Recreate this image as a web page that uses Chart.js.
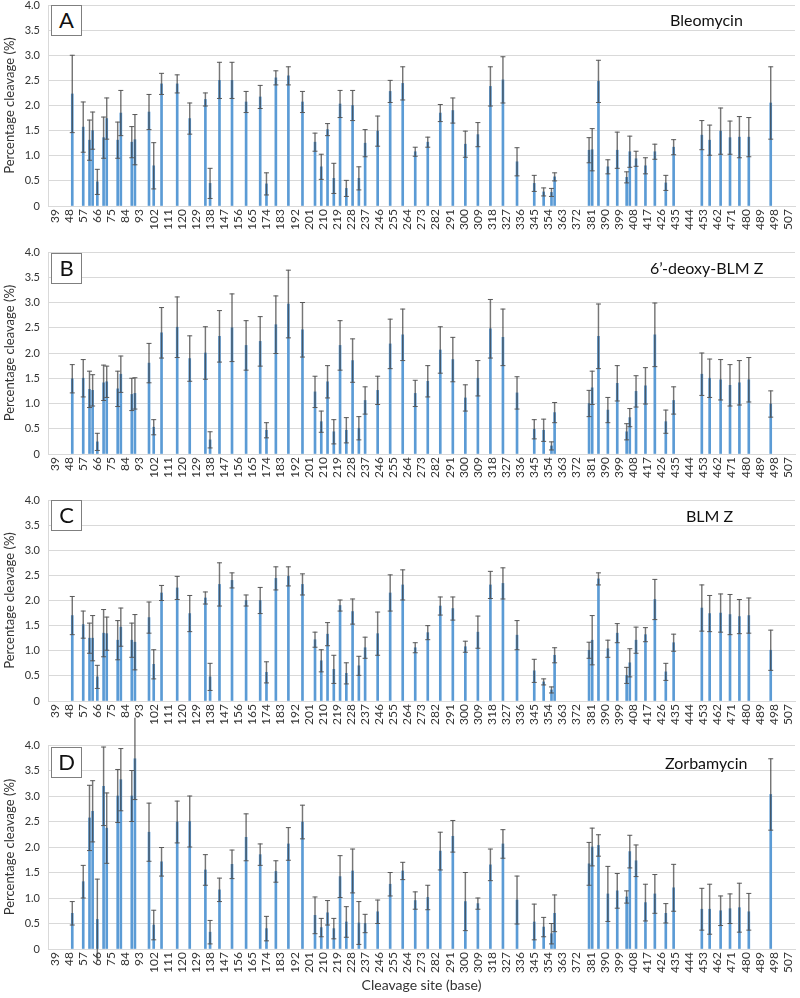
<!DOCTYPE html>
<html>
<head>
<meta charset="utf-8">
<script src="https://cdn.jsdelivr.net/npm/chart.js@4.4.0/dist/chart.umd.min.js"></script>
<style>
  body { margin: 0; background: #fff; font-family: Lato, "Open Sans", sans-serif; }
  #page { position: relative; width: 800px; height: 998px; overflow: hidden; }
  canvas { position: absolute; left: 0; }
  .box { position: absolute; left: 51px; width: 31px; height: 31px; box-sizing: border-box;
         border: 1.5px solid #7f7f7f; background: #fff; font-size: 22px; line-height: 28px;
         text-align: center; color: #111; z-index: 2; }
  .drug { position: absolute; font-size: 16px; line-height: 18px; color: #111; white-space: nowrap; z-index: 2; }
</style>
</head>
<body>
<div id="page">
  <canvas id="chartA" width="800" height="240" style="top:0px"></canvas>
  <canvas id="chartB" width="800" height="241" style="top:247px"></canvas>
  <canvas id="chartC" width="800" height="240" style="top:495px"></canvas>
  <canvas id="chartD" width="800" height="284" style="top:712px"></canvas>

  <div class="box" style="top:5px">A</div>
  <div class="box" style="top:253px">B</div>
  <div class="box" style="top:500px">C</div>
  <div class="box" style="top:747px">D</div>

  <div class="drug" style="left:670px;top:11px">Bleomycin</div>
  <div class="drug" style="left:650px;top:259px">6’-deoxy-BLM Z</div>
  <div class="drug" style="left:686px;top:507px">BLM Z</div>
  <div class="drug" style="left:665px;top:754px">Zorbamycin</div>
</div>

<script>
// cleavage sites (base) shared by all four panels
const sites = [50, 57, 61, 63, 66, 70, 72, 79, 81, 88, 90, 99, 102, 107, 117, 125, 135, 138, 144, 152,
  161, 170, 174, 180, 188, 197, 205, 209, 213, 217, 221, 225, 229, 233, 237, 245, 253,
  261, 269, 277, 285, 293, 301, 309, 317, 325, 334, 345, 351, 356, 358, 380, 382, 386, 392, 398, 404,
  406, 410, 416, 422, 429, 434, 452, 457, 464, 470, 476, 482, 496];

const xTicks = [39, 48, 57, 66, 75, 84, 93, 102, 111, 120, 129, 138, 147, 156, 165, 174, 183, 192, 201,
  210, 219, 228, 237, 246, 255, 264, 273, 282, 291, 300, 309, 318, 327, 336, 345, 354, 363, 372, 381,
  390, 399, 408, 417, 426, 435, 444, 453, 462, 471, 480, 489, 498, 507];

const bleomycin = [2.23, 1.57, 1.31, 1.50, 0.48, 1.36, 1.74, 1.31, 1.85, 1.27, 1.32, 1.87, 0.80, 2.43, 2.43, 1.74, 2.12, 0.45, 2.50, 2.50,
  2.07, 2.17, 0.44, 2.55, 2.59, 2.07, 1.27, 0.78, 1.52, 0.55, 2.03, 0.35, 2.00, 0.55, 1.25, 1.49, 2.28,
  2.44, 1.08, 1.27, 1.85, 1.90, 1.23, 1.42, 2.38, 2.51, 0.88, 0.45, 0.28, 0.27, 0.58, 1.11, 1.12, 2.48, 0.78, 1.11, 0.57,
  1.08, 0.94, 0.80, 1.08, 0.46, 1.17, 1.41, 1.31, 1.49, 1.36, 1.37, 1.37, 2.05];
const bleomycinSd = [0.77, 0.50, 0.40, 0.37, 0.25, 0.41, 0.41, 0.36, 0.45, 0.31, 0.50, 0.35, 0.46, 0.21, 0.18, 0.31, 0.13, 0.30, 0.36, 0.36,
  0.21, 0.23, 0.22, 0.14, 0.18, 0.21, 0.18, 0.25, 0.12, 0.30, 0.27, 0.16, 0.30, 0.23, 0.27, 0.30, 0.22,
  0.33, 0.09, 0.10, 0.17, 0.25, 0.26, 0.24, 0.39, 0.46, 0.28, 0.16, 0.08, 0.08, 0.08, 0.25, 0.42, 0.42, 0.14, 0.36, 0.11,
  0.31, 0.15, 0.16, 0.15, 0.15, 0.15, 0.29, 0.30, 0.46, 0.33, 0.41, 0.39, 0.72];

const deoxyBlmZ = [1.49, 1.50, 1.28, 1.26, 0.24, 1.41, 1.43, 1.29, 1.58, 1.18, 1.20, 1.80, 0.53, 2.40, 2.51, 1.89, 2.00, 0.28, 2.33, 2.50,
  2.15, 2.23, 0.47, 2.56, 2.97, 2.46, 1.23, 0.64, 1.43, 0.44, 2.15, 0.47, 1.85, 0.51, 1.06, 1.26, 2.18,
  2.36, 1.20, 1.44, 2.06, 1.87, 1.11, 1.50, 2.48, 2.31, 1.21, 0.49, 0.47, 0.16, 0.82, 1.00, 1.31, 2.33, 0.87, 1.40, 0.44,
  0.72, 1.24, 1.35, 2.36, 0.64, 1.06, 1.58, 1.50, 1.47, 1.36, 1.41, 1.47, 0.99];
const deoxyBlmZSd = [0.28, 0.37, 0.36, 0.31, 0.17, 0.35, 0.31, 0.35, 0.36, 0.32, 0.31, 0.39, 0.15, 0.50, 0.60, 0.45, 0.52, 0.16, 0.51, 0.67,
  0.49, 0.49, 0.15, 0.57, 0.67, 0.54, 0.31, 0.21, 0.32, 0.24, 0.49, 0.25, 0.43, 0.23, 0.27, 0.28, 0.49,
  0.51, 0.26, 0.31, 0.46, 0.44, 0.26, 0.35, 0.58, 0.56, 0.32, 0.19, 0.22, 0.08, 0.20, 0.26, 0.33, 0.64, 0.25, 0.35, 0.16,
  0.18, 0.31, 0.36, 0.63, 0.23, 0.27, 0.42, 0.38, 0.40, 0.41, 0.44, 0.44, 0.26];

const blmZ = [1.70, 1.52, 1.25, 1.25, 0.48, 1.35, 1.34, 1.21, 1.47, 1.21, 1.17, 1.66, 0.73, 2.15, 2.25, 1.74, 2.05, 0.48, 2.32, 2.40,
  2.00, 2.00, 0.57, 2.44, 2.48, 2.32, 1.22, 0.80, 1.33, 0.63, 1.90, 0.55, 1.78, 0.70, 1.06, 1.34, 2.15,
  2.31, 1.06, 1.36, 1.89, 1.84, 1.08, 1.37, 2.31, 2.34, 1.31, 0.60, 0.38, 0.22, 0.91, 1.01, 1.21, 2.43, 1.04, 1.35, 0.51,
  0.76, 1.21, 1.32, 2.02, 0.58, 1.16, 1.85, 1.74, 1.75, 1.72, 1.68, 1.70, 1.01];
const blmZSd = [0.38, 0.27, 0.30, 0.45, 0.23, 0.47, 0.33, 0.39, 0.38, 0.34, 0.55, 0.31, 0.29, 0.15, 0.23, 0.36, 0.12, 0.27, 0.43, 0.15,
  0.11, 0.26, 0.21, 0.23, 0.19, 0.21, 0.15, 0.22, 0.23, 0.28, 0.11, 0.21, 0.25, 0.19, 0.21, 0.43, 0.36,
  0.30, 0.10, 0.14, 0.18, 0.23, 0.11, 0.32, 0.27, 0.31, 0.29, 0.23, 0.06, 0.06, 0.15, 0.16, 0.49, 0.12, 0.17, 0.19, 0.16,
  0.28, 0.26, 0.14, 0.40, 0.17, 0.17, 0.46, 0.36, 0.38, 0.40, 0.34, 0.35, 0.40];

const zorbamycin = [0.70, 1.32, 2.57, 2.70, 0.58, 3.19, 2.37, 3.00, 3.32, 3.00, 3.73, 2.29, 0.47, 1.71, 2.49, 2.50, 1.55, 0.33, 1.16, 1.66,
  2.19, 1.85, 0.40, 1.52, 2.06, 2.49, 0.66, 0.42, 0.71, 0.40, 1.42, 0.53, 1.53, 0.51, 0.50, 0.73, 1.27,
  1.53, 0.95, 1.01, 1.92, 2.21, 0.93, 0.89, 1.65, 2.06, 0.96, 0.53, 0.43, 0.30, 0.70, 1.67, 2.00, 2.03, 1.08, 1.14, 1.02,
  1.91, 1.73, 0.91, 1.08, 0.70, 1.20, 0.78, 0.78, 0.75, 0.79, 0.81, 0.73, 3.03];
const zorbamycinSd = [0.23, 0.32, 0.64, 0.60, 0.79, 0.77, 0.69, 0.52, 0.61, 0.50, 0.80, 0.57, 0.29, 0.28, 0.41, 0.50, 0.30, 0.23, 0.23, 0.28,
  0.46, 0.21, 0.24, 0.21, 0.32, 0.33, 0.36, 0.18, 0.24, 0.20, 0.41, 0.30, 0.43, 0.42, 0.18, 0.23, 0.23,
  0.17, 0.17, 0.24, 0.37, 0.31, 0.57, 0.11, 0.31, 0.28, 0.47, 0.35, 0.19, 0.20, 0.36, 0.42, 0.37, 0.21, 0.54, 0.34, 0.12,
  0.32, 0.31, 0.36, 0.38, 0.19, 0.46, 0.41, 0.49, 0.29, 0.29, 0.48, 0.36, 0.70];

const barColor = '#5b9bd5';
const errColor = 'rgba(60, 60, 60, 0.7)';
const capColor = '#595959';
const gridColor = '#d9d9d9';
const textColor = '#333333';
const fontFamily = 'Lato, "Open Sans", sans-serif';

const renderPanel = (id, values, sds, padTop, xHeight, showXTitle) => {
  let ctx = document.getElementById(id).getContext('2d');
  let bars = sites.map((s, i) => ({x: s, y: values[i]}));
  let errs = sites.map((s, i) => ({x: s, y: [values[i] - sds[i], values[i] + sds[i]]}));
  let caps = sites.flatMap((s, i) => [{x: s, y: values[i] - sds[i]}, {x: s, y: values[i] + sds[i]}]);

  new Chart(ctx, {
    type: 'bar',
    data: {
      datasets: [{
        data: bars,
        backgroundColor: barColor,
        barThickness: 2,
        grouped: false,
        order: 3
      }, {
        data: errs,
        backgroundColor: errColor,
        barThickness: 0.8,
        grouped: false,
        clip: false,
        order: 2
      }, {
        type: 'line',
        data: caps,
        showLine: false,
        pointStyle: 'line',
        pointRadius: 2.5,
        borderColor: capColor,
        borderWidth: 1,
        clip: false,
        order: 1
      }]
    },
    options: {
      responsive: false,
      animation: false,
      events: [],
      layout: {padding: {top: padTop, right: 4, left: 0, bottom: 0}},
      plugins: {legend: {display: false}, tooltip: {enabled: false}},
      scales: {
        x: {
          type: 'linear',
          min: 39,
          max: 507,
          afterBuildTicks: (scale) => { scale.ticks = xTicks.map(v => ({value: v})); },
          afterFit: (scale) => { scale.height = xHeight; scale.paddingLeft = 0; scale.paddingRight = 0; },
          ticks: {
            autoSkip: false,
            minRotation: 90,
            maxRotation: 90,
            padding: 3,
            color: textColor,
            font: {family: fontFamily, size: 12}
          },
          grid: {display: false, drawTicks: false},
          border: {display: true, color: gridColor},
          title: {
            display: showXTitle,
            text: 'Cleavage site (base)',
            color: textColor,
            font: {family: fontFamily, size: 14},
            padding: {top: 0, bottom: 2}
          }
        },
        y: {
          min: 0,
          max: 4,
          afterFit: (scale) => { scale.width = 48; scale.paddingTop = 0; scale.paddingBottom = 0; },
          ticks: {
            stepSize: 0.5,
            padding: 8,
            color: textColor,
            font: {family: fontFamily, size: 11},
            callback: (v) => v === 0 ? '0' : v.toFixed(1)
          },
          grid: {color: gridColor, drawTicks: false},
          border: {display: true, color: gridColor},
          title: {
            display: true,
            text: 'Percentage cleavage (%)',
            color: textColor,
            font: {family: fontFamily, size: 13},
            padding: {top: 2, bottom: 0}
          }
        }
      }
    }
  });
}

renderPanel('chartA', bleomycin, bleomycinSd, 4, 34, false);
renderPanel('chartB', deoxyBlmZ, deoxyBlmZSd, 4, 34, false);
renderPanel('chartC', blmZ, blmZSd, 4, 34, false);
renderPanel('chartD', zorbamycin, zorbamycinSd, 33, 47, true);
</script>
</body>
</html>
